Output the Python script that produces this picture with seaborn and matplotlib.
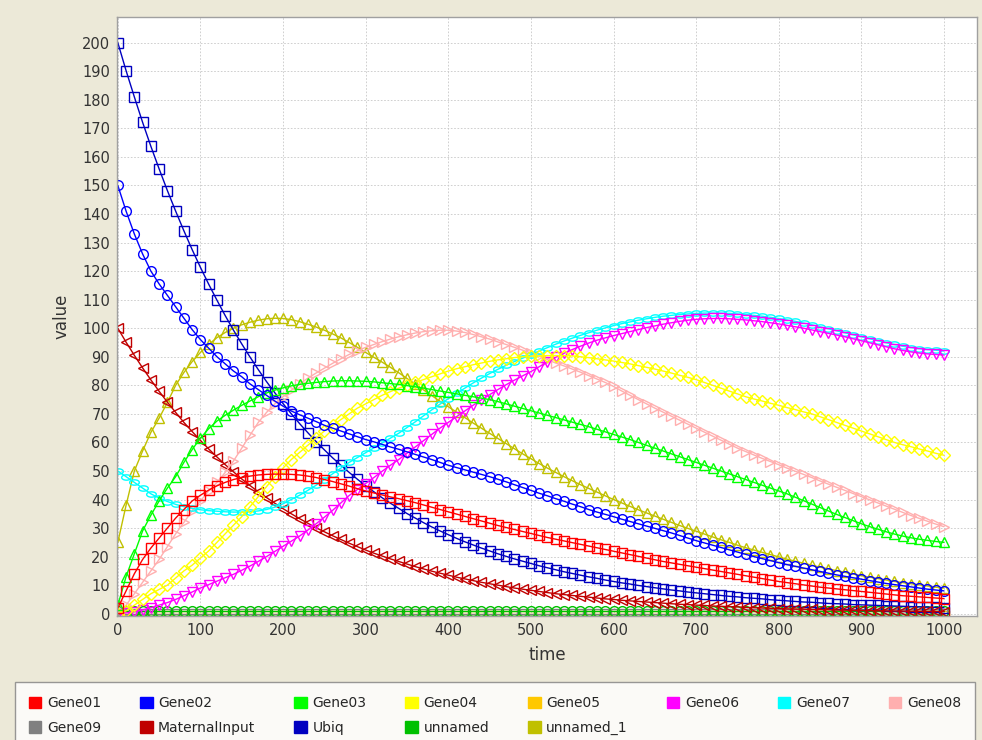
import numpy as np
import pandas as pd
import seaborn as sns
import matplotlib.pyplot as plt
from matplotlib.patches import Patch

# == Data (one value every 10 time units) == #

time = list(range(0, 1001, 10))

gene01 = [2, 8, 14, 19, 23, 26.5, 30, 33.5, 36.5, 39.5,
          41.5, 43.3, 44.8, 46, 47, 47.7, 48.2, 48.6, 48.8, 48.9,
          48.9, 48.8, 48.6, 48.2, 47.7, 47, 46.3, 45.5, 44.7, 43.8,
          43, 42.3, 41.6, 40.9, 40.3, 39.6, 38.9, 38.1, 37.3, 36.5,
          35.7, 34.9, 34.1, 33.3, 32.5, 31.7, 30.9, 30.2, 29.5, 28.8,
          28.1, 27.4, 26.7, 26.1, 25.5, 24.9, 24.3, 23.7, 23.1, 22.5,
          21.9, 21.3, 20.7, 20.1, 19.5, 18.9, 18.3, 17.8, 17.3, 16.8,
          16.3, 15.8, 15.3, 14.8, 14.3, 13.8, 13.3, 12.8, 12.3, 11.8,
          11.3, 10.9, 10.5, 10.1, 9.7, 9.3, 9, 8.7, 8.4, 8.1,
          7.8, 7.5, 7.2, 6.9, 6.6, 6.3, 6.1, 5.9, 5.7, 5.5,
          5.3]

gene02 = [150, 141, 133, 126, 120, 115.5, 111.5, 107.5, 103.5, 99.5,
          96, 93, 90, 87.5, 85, 83, 80.5, 78.5, 76.5, 74.5,
          72.7, 71, 69.7, 68.5, 67.3, 66, 65, 64, 63, 62,
          61, 60.2, 59.3, 58.4, 57.6, 56.7, 55.8, 54.9, 54, 53,
          52, 51.2, 50.4, 49.6, 48.8, 48, 47.1, 46.2, 45.2, 44.2,
          43.2, 42.2, 41.3, 40.3, 39.4, 38.4, 37.5, 36.5, 35.6, 34.8,
          34, 33.1, 32.3, 31.5, 30.7, 29.9, 29.1, 28.3, 27.4, 26.5,
          25.6, 24.8, 24, 23.2, 22.4, 21.6, 20.8, 20, 19.3, 18.6,
          17.9, 17.2, 16.6, 16, 15.4, 14.8, 14.2, 13.6, 13.1, 12.6,
          12.1, 11.6, 11.1, 10.6, 10.2, 9.8, 9.4, 9, 8.6, 8.3,
          8]

gene03 = [3, 13, 21, 29, 34.5, 39.5, 44, 48, 53, 57.5,
          61.5, 64.8, 67.5, 69.5, 71.3, 73, 74.5, 76, 77.3, 78.3,
          79.1, 79.8, 80.3, 80.7, 81, 81.3, 81.5, 81.6, 81.6, 81.5,
          81.4, 81.2, 80.9, 80.6, 80.3, 79.9, 79.5, 79, 78.5, 78,
          77.5, 77, 76.5, 76, 75.5, 75, 74.3, 73.5, 72.7, 71.9,
          71.1, 70.3, 69.5, 68.7, 67.9, 67.1, 66.3, 65.5, 64.6, 63.7,
          62.8, 61.9, 61, 60, 59, 58, 57, 56, 55, 54,
          53, 52, 51, 50, 49, 48, 47, 46, 45, 44,
          43, 42, 40.8, 39.6, 38.4, 37.2, 36, 34.8, 33.7, 32.6,
          31.5, 30.5, 29.6, 28.7, 27.9, 27.2, 26.6, 26.1, 25.7, 25.3,
          25]

gene04 = [0, 1, 3, 5, 7, 8.5, 10, 12.5, 15, 17,
          19.5, 22, 25, 28, 31, 34, 37.5, 41, 44.5, 48,
          51, 54, 56.5, 59, 61.5, 64, 66, 68, 70, 72,
          73.5, 75, 76.5, 77.8, 79, 80, 81, 82, 83, 84,
          85, 85.8, 86.5, 87.2, 87.8, 88.4, 88.9, 89.3, 89.7, 90,
          90.2, 90.3, 90.4, 90.4, 90.4, 90.3, 90, 89.7, 89.3, 88.9,
          88.5, 88, 87.5, 86.9, 86.3, 85.7, 85, 84.3, 83.5, 82.8,
          82, 81, 80, 79, 78, 77, 76, 75.2, 74.5, 73.7,
          73, 72.2, 71.5, 70.7, 70, 69, 68, 67, 66, 65,
          64, 63, 62, 61, 60, 59.2, 58.5, 57.7, 57, 56.2,
          55.5]

gene05 = [0.0] * 101

gene06 = [0, 0.3, 0.7, 1.3, 2.1, 3, 3.9, 5, 6.3, 7.6,
          9, 10.2, 11.4, 12.6, 13.8, 15.2, 16.7, 18.3, 20, 21.8,
          23.6, 25.4, 27.2, 29.3, 31.5, 33.8, 36.2, 38.8, 41.4, 43.5,
          45.6, 47.7, 49.9, 52, 54, 56.2, 58.4, 60.6, 62.8, 65,
          67, 69, 71, 73, 74.9, 76.7, 78.5, 80.2, 81.8, 83.3,
          84.8, 86.5, 88.2, 89.8, 91.2, 92.5, 93.7, 94.8, 95.8, 96.6,
          97.4, 98.1, 98.8, 99.5, 100.2, 100.8, 101.4, 101.9, 102.4, 102.8,
          103.1, 103.3, 103.4, 103.4, 103.3, 103.1, 102.9, 102.6, 102.3, 101.9,
          101.5, 101, 100.5, 100, 99.4, 98.8, 98.2, 97.6, 97, 96.3,
          95.6, 94.9, 94.2, 93.5, 92.8, 92.2, 91.7, 91.3, 91, 90.8,
          90.6]

gene07 = [50, 48, 46, 44, 42, 40.5, 39.3, 38.3, 37.5, 36.9,
          36.4, 36.1, 35.9, 35.7, 35.6, 35.6, 35.7, 36, 36.5, 37.3,
          38.5, 40, 41.5, 43.2, 45, 47, 49, 51, 53, 54.7,
          56.4, 58.1, 59.8, 61.5, 63.2, 65.2, 67.2, 69.3, 71.4, 73.4,
          75.3, 77.2, 79, 80.8, 82.5, 84.1, 85.6, 87, 88.3, 89.5,
          90.7, 92, 93.2, 94.4, 95.5, 96.5, 97.5, 98.4, 99.3, 100.1,
          100.9, 101.6, 102.2, 102.8, 103.3, 103.8, 104.2, 104.5, 104.8, 105,
          105.2, 105.3, 105.3, 105.3, 105.2, 105, 104.8, 104.5, 104.2, 103.8,
          103.4, 102.9, 102.4, 101.8, 101.2, 100.5, 99.8, 99.1, 98.4, 97.7,
          97, 96.3, 95.6, 94.9, 94.3, 93.7, 93.2, 92.8, 92.5, 92.3,
          92]

gene08 = [0, 3, 7, 11, 15, 19, 23.5, 28, 32, 36,
          39.5, 43, 46, 49.5, 53.5, 58, 62.5, 67, 70.5, 73.5,
          76, 78.3, 80.5, 82.5, 84.3, 86, 87.7, 89.3, 90.8, 92.1,
          93.3, 94.3, 95.3, 96.2, 97, 97.7, 98.3, 98.8, 99.1, 99.3,
          99.3, 99, 98.5, 97.8, 97, 96.2, 95.2, 94.3, 93.3, 92.3,
          91.3, 90.2, 89, 87.8, 86.8, 85.7, 84.6, 83.4, 82.2, 81,
          79.6, 78, 76.5, 75, 73.5, 72, 70.6, 69.2, 67.8, 66.4,
          65, 63.6, 62.2, 60.8, 59.4, 58, 56.8, 55.6, 54.4, 53.3,
          52.2, 51, 49.9, 48.8, 47.7, 46.5, 45.4, 44.3, 43.2, 42.1,
          41, 39.9, 38.8, 37.7, 36.6, 35.5, 34.4, 33.4, 32.4, 31.4,
          30.5]

gene09 = [0.0] * 101

maternal_input = [100, 95.1, 90.5, 86.1, 81.9, 77.9, 74.1, 70.5, 67, 63.8,
                  60.7, 57.7, 54.9, 52.2, 49.7, 47.2, 44.9, 42.7, 40.7, 38.7,
                  36.8, 35, 33.3, 31.7, 30.1, 28.7, 27.3, 26, 24.7, 23.5,
                  22.3, 21.2, 20.2, 19.2, 18.3, 17.4, 16.5, 15.7, 14.9, 14.2,
                  13.5, 12.8, 12.2, 11.6, 11, 10.5, 10, 9.5, 9, 8.6,
                  8.2, 7.8, 7.4, 7, 6.7, 6.4, 6.1, 5.8, 5.5, 5.2,
                  5, 4.7, 4.5, 4.3, 4.1, 3.9, 3.7, 3.5, 3.3, 3.2,
                  3, 2.9, 2.7, 2.6, 2.5, 2.4, 2.2, 2.1, 2, 1.9,
                  1.8, 1.7, 1.65, 1.6, 1.5, 1.45, 1.4, 1.3, 1.25, 1.2,
                  1.15, 1.1, 1.05, 1, 0.95, 0.9, 0.87, 0.84, 0.81, 0.78,
                  0.75]

ubiq = [200, 190.2, 181, 172.1, 163.7, 155.8, 148.2, 141, 134.1, 127.5,
        121.3, 115.4, 109.8, 104.4, 99.3, 94.5, 89.9, 85.5, 81.3, 77.4,
        73.6, 70, 66.6, 63.4, 60.3, 57.4, 54.6, 52, 49.5, 47.1,
        44.8, 42.7, 40.6, 38.7, 36.9, 35.1, 33.5, 31.9, 30.4, 29,
        27.7, 26.4, 25.2, 24.1, 23, 22, 21, 20.1, 19.2, 18.4,
        17.6, 16.8, 16.1, 15.4, 14.7, 14.1, 13.5, 12.9, 12.4, 11.8,
        11.3, 10.8, 10.4, 9.9, 9.5, 9.1, 8.7, 8.3, 8, 7.6,
        7.3, 7, 6.7, 6.4, 6.1, 5.9, 5.6, 5.4, 5.2, 4.9,
        4.7, 4.5, 4.3, 4.1, 4, 3.8, 3.6, 3.5, 3.4, 3.2,
        3.1, 3, 2.9, 2.8, 2.7, 2.6, 2.5, 2.4, 2.3, 2.2,
        2.1]

unnamed = [1.0] * 101

unnamed_1 = [25, 38, 50, 57, 63.5, 68.5, 74, 80, 84.5, 88.3,
             91.5, 94.3, 96.7, 98.5, 100, 101.2, 102.1, 102.8, 103.3, 103.5,
             103.4, 103, 102.3, 101.4, 100.4, 99.3, 98, 96.6, 95, 93.3,
             91.5, 89.8, 88.1, 86.3, 84.4, 82.4, 80.4, 78.4, 76.4, 74.4,
             72.5, 70.6, 68.7, 66.8, 65, 63.2, 61.4, 59.6, 57.8, 56,
             54.3, 52.6, 51, 49.5, 48, 46.6, 45.2, 43.9, 42.6, 41.3,
             40, 38.8, 37.6, 36.4, 35.3, 34.2, 33.1, 32, 30.9, 29.9,
             28.9, 27.9, 26.9, 25.9, 25, 24, 23.1, 22.3, 21.5, 20.7,
             19.9, 19.1, 18.4, 17.7, 17, 16.3, 15.7, 15.1, 14.5, 13.9,
             13.3, 12.8, 12.3, 11.8, 11.3, 10.9, 10.5, 10.1, 9.7, 9.3,
             9]

names = ['Gene01', 'Gene02', 'Gene03', 'Gene04', 'Gene05', 'Gene06', 'Gene07',
         'Gene08', 'Gene09', 'MaternalInput', 'Ubiq', 'unnamed', 'unnamed_1']
series = [gene01, gene02, gene03, gene04, gene05, gene06, gene07,
          gene08, gene09, maternal_input, ubiq, unnamed, unnamed_1]

# == Style == #

colors = ['#FF0000', '#0000FF', '#00FF00', '#FFFF00', '#FFC800', '#FF00FF', '#00FFFF',
          '#FFAFAF', '#808080', '#C00000', '#0000C0', '#00C000', '#C0C000']

hrect = [(-1, -0.55), (1, -0.55), (1, 0.55), (-1, 0.55), (-1, -0.55)]
vrect = [(-0.55, -1), (0.55, -1), (0.55, 1), (-0.55, 1), (-0.55, -1)]
ang = np.linspace(0, 2 * np.pi, 25)
hellipse = list(zip(np.cos(ang), 0.55 * np.sin(ang)))
markers = ['s', 'o', '^', 'D', hrect, 'v', hellipse, '>', vrect, '<', 's', 'o', '^']
sizes = [7, 7, 7, 6, 7, 7, 7, 7, 7, 7, 7, 7, 7]

df = pd.DataFrame({'time': time})
for n, s in zip(names, series):
    df[n] = s

sns.set_style('white')
plt.rcParams['font.family'] = ['DejaVu Sans']

fig = plt.figure(figsize=(9.82, 7.40), dpi=100, facecolor='#ECE9D8')
ax = fig.add_axes([117 / 982, 1 - 616 / 740, 860 / 982, 599 / 740])
ax.set_facecolor('white')

# flat series first, the rest in reverse so Gene01 ends on top
order = [4, 8, 11, 12, 10, 9, 7, 6, 5, 3, 2, 1, 0]
for i in order:
    sns.lineplot(data=df, x='time', y=names[i], ax=ax, color=colors[i],
                 marker=markers[i], markersize=sizes[i], markerfacecolor='none',
                 markeredgecolor=colors[i], markeredgewidth=1.0,
                 linewidth=1.0, legend=False)

ax.set_xlim(-1, 1040)
ax.set_ylim(-0.8, 209)
ax.set_xticks(range(0, 1001, 100))
ax.set_yticks(range(0, 201, 10))
ax.grid(True, color='#C8C8C8', linestyle=(0, (2, 2)), linewidth=0.6)
ax.set_axisbelow(True)
ax.tick_params(axis='both', labelsize=10.5, length=3, color='#808080',
               labelcolor='#333333', direction='out', pad=2)
for sp in ax.spines.values():
    sp.set_color('#A0A0A0')
    sp.set_linewidth(1.0)

ax.set_xlabel('time', fontsize=12, color='#333333', labelpad=6)
ax.set_ylabel('value', fontsize=12, color='#333333', labelpad=8)

# legend is filled column by column; order it so rows read Gene01..Gene08, Gene09..unnamed_1
leg_order = [0, 8, 1, 9, 2, 10, 3, 11, 4, 12, 5, 6, 7]
handles = [Patch(facecolor=colors[i], edgecolor=colors[i]) for i in leg_order]
labels = [names[i] for i in leg_order]
fig.legend(handles, labels, loc='upper left', ncol=8, mode='expand',
           bbox_to_anchor=(15 / 982, 1 - 683 / 740, 960 / 982, 0.001),
           borderaxespad=0, fontsize=10, frameon=True, fancybox=False,
           edgecolor='#808080', facecolor='white', handlelength=0.9,
           handleheight=0.9, handletextpad=0.4, borderpad=1.0,
           labelspacing=0.75, columnspacing=0.5)

fig.savefig('out.png', dpi=100, facecolor=fig.get_facecolor())
